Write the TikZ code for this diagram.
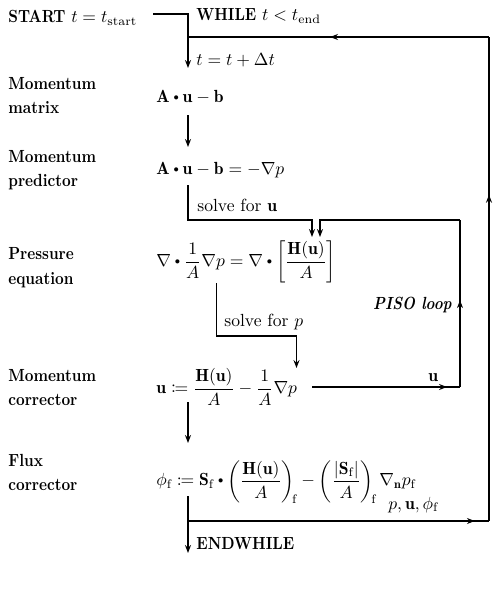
\documentclass[tikz,border=0pt]{standalone}
\usepackage{amsmath,amssymb,mathtools}
\usepackage{fontspec}
\usepackage{tikz}
\usetikzlibrary{arrows.meta,calc,positioning,decorations.markings}
\newfontfamily\lbf{lmroman10-bold.otf}[FakeStretch=0.86]
\newfontfamily\lbfit{lmroman10-bolditalic.otf}[FakeStretch=0.86]
\newcommand{\bdot}{\mathbin{\vcenter{\hbox{\scalebox{0.6}{$\bullet$}}}}}
\tikzset{
  tip/.tip={Stealth[length=4.5pt,width=3.4pt]},
  seg/.style={line width=0.8pt},
  flow/.style={seg,-tip},
  midarrow/.style={seg,postaction={decorate},decoration={markings,mark=at position #1 with {\arrow{tip}}}},
  lbl/.style={anchor=west,align=left,inner sep=0pt,font=\lbf},
  eqn/.style={anchor=west,inner sep=0pt},
}
\begin{document}
\begin{tikzpicture}
\useasboundingbox (0,0) rectangle (10,-12);
% left column labels
\node[lbl] (start) at (0.16,-0.36) {START $t=t_{\mathrm{start}}$};
\node[lbl] (lmm) at (0.16,-1.91) {Momentum\\[2pt]matrix};
\node[lbl] (lmp) at (0.16,-3.40) {Momentum\\[2pt]predictor};
\node[lbl] (lpe) at (0.16,-5.35) {Pressure\\[2pt]equation};
\node[lbl] (lmc) at (0.16,-7.75) {Momentum\\[2pt]corrector};
\node[lbl] (lfc) at (0.16,-9.45) {Flux\\[2pt]corrector};
% equations
\node[eqn] (mm) at (3.12,-1.94) {$\mathbf{A}\bdot\mathbf{u}-\mathbf{b}$};
\node[eqn] (mp) at (3.12,-3.40) {$\mathbf{A}\bdot\mathbf{u}-\mathbf{b}=-\nabla p$};
\node[eqn] (pe) at (3.12,-5.24) {$\nabla\bdot\dfrac{1}{A}\nabla p=\nabla\bdot\left[\dfrac{\mathbf{H}(\mathbf{u})}{A}\right]$};
\node[eqn] (mc) at (3.12,-7.74) {$\mathbf{u}\coloneqq\dfrac{\mathbf{H}(\mathbf{u})}{A}-\dfrac{1}{A}\nabla p$};
\node[eqn] (fc) at (3.12,-9.64) {$\phi_{\mathrm{f}}\coloneqq\mathbf{S}_{\mathrm{f}}\bdot\left(\dfrac{\mathbf{H}(\mathbf{u})}{A}\right)_{\!\mathrm{f}}-\left(\dfrac{|\mathbf{S}_{\mathrm{f}}|}{A}\right)_{\!\mathrm{f}}\nabla_{\mathbf{n}}p_{\mathrm{f}}$};
% small labels
\node[lbl] (while) at (3.92,-0.32) {WHILE $t<t_{\mathrm{end}}$};
\node[eqn] (dt) at (3.92,-1.20) {$t=t+\Delta t$};
\node[eqn] (sfu) at (3.94,-4.10) {solve for $\mathbf{u}$};
\node[eqn] (sfp) at (4.48,-6.44) {solve for $p$};
\node[lbl,font=\lbfit,anchor=east] (piso) at (9.04,-6.10) {PISO loop};
\node[eqn] (lu) at (8.56,-7.56) {$\mathbf{u}$};
\node[eqn,anchor=base west] (lpuf) at (7.76,-10.18) {$p,\mathbf{u},\phi_{\mathrm{f}}$};
\node[lbl] (endw) at (3.92,-10.88) {ENDWHILE};
% junction points
\coordinate (s0) at (3.06,-0.28); \coordinate (s1) at (3.76,-0.28); \coordinate (s2) at (3.76,-1.36);
\coordinate (r0) at (9.78,-0.74); \coordinate (r1) at (3.76,-0.74);
\coordinate (m0) at (3.76,-2.30); \coordinate (m1) at (3.76,-2.94);
\coordinate (p0) at (3.76,-3.70); \coordinate (p1) at (3.76,-4.40);
\coordinate (p2) at (6.24,-4.40); \coordinate (p3) at (6.24,-4.74);
\coordinate (q0) at (4.33,-5.66); \coordinate (q1) at (4.33,-6.72);
\coordinate (q2) at (5.93,-6.72); \coordinate (q3) at (5.93,-7.36);
\coordinate (c0) at (6.24,-7.74); \coordinate (c1) at (9.20,-7.74);
\coordinate (c2) at (9.20,-4.40); \coordinate (c3) at (6.40,-4.40); \coordinate (c4) at (6.40,-4.74);
\coordinate (f0) at (3.76,-8.04); \coordinate (f1) at (3.76,-8.86);
\coordinate (e0) at (3.76,-9.92); \coordinate (e1) at (3.76,-10.42);
\coordinate (e2) at (3.76,-11.06); \coordinate (e3) at (9.78,-10.42);
% main flow
\draw[flow] (s0) -- (s1) -- (s2);
\draw[flow] (m0) -- (m1);
\draw[flow] (p0) -- (p1) -- (p2) -- (p3);
\draw[flow] (q0) -- (q1) -- (q2) -- (q3);
\draw[flow] (f0) -- (f1);
\draw[flow] (e0) -- (e2);
% PISO loop
\draw[midarrow=0.912] (c0) -- (c1);
\draw[midarrow=0.52] (c1) -- (c2);
\draw[flow] (c2) -- (c3) -- (c4);
% time loop
\draw[midarrow=0.953] (e1) -- (e3);
\draw[midarrow=0.674] (e3) -- (r0);
\draw[midarrow=0.528] (r0) -- (r1);
\end{tikzpicture}
\end{document}
